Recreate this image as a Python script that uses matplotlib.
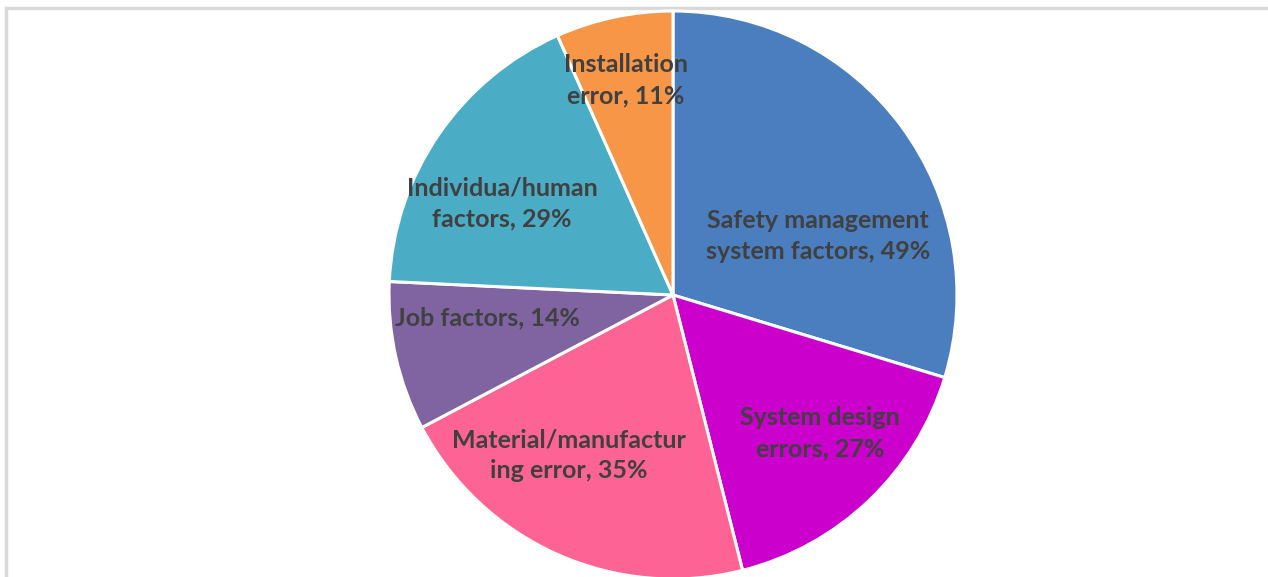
import matplotlib
matplotlib.use("Agg")
import matplotlib.pyplot as plt

# Causes of failures, share of cases (%)
categories = [
    "Safety management\nsystem factors",
    "System design\nerrors",
    "Material/manufactur\ning error",
    "Job factors",
    "Individua/human\nfactors",
    "Installation\nerror",
]
values = [49, 27, 35, 14, 29, 11]
colors = ["#4A7EBF", "#CC00CC", "#FD6495", "#8064A2", "#4BACC6", "#F79646"]

# label anchor points in pixel space (x from left, y from top)
label_pos = [(818, 236), (820, 433), (569, 455), (487, 318), (502, 203), (626, 80)]

W, H = 1268, 577
fig = plt.figure(figsize=(W / 100, H / 100), dpi=100)
ax = fig.add_axes([0, 0, 1, 1])

cx, cy, r = 673, 295, 284
ax.pie(values, colors=colors, startangle=90, counterclock=False,
       center=(cx, H - cy), radius=r,
       wedgeprops=dict(edgecolor="white", linewidth=2.2), frame=True)

ax.set_xlim(0, W)
ax.set_ylim(0, H)
ax.set_aspect("equal")
ax.axis("off")

for cat, v, (lx, ly) in zip(categories, values, label_pos):
    ax.text(lx, H - ly, f"{cat}, {v}%", ha="center", va="center",
            fontsize=18, fontweight="bold", color="#404040",
            family="Lato", linespacing=1.42)

# chart area border (top and left edges)
ax.plot([6, 6, W], [0, H - 8, H - 8], color="#D9D9D9", linewidth=2.5,
        solid_joinstyle="miter", zorder=0)

fig.savefig("out.png", dpi=100, facecolor="white")
